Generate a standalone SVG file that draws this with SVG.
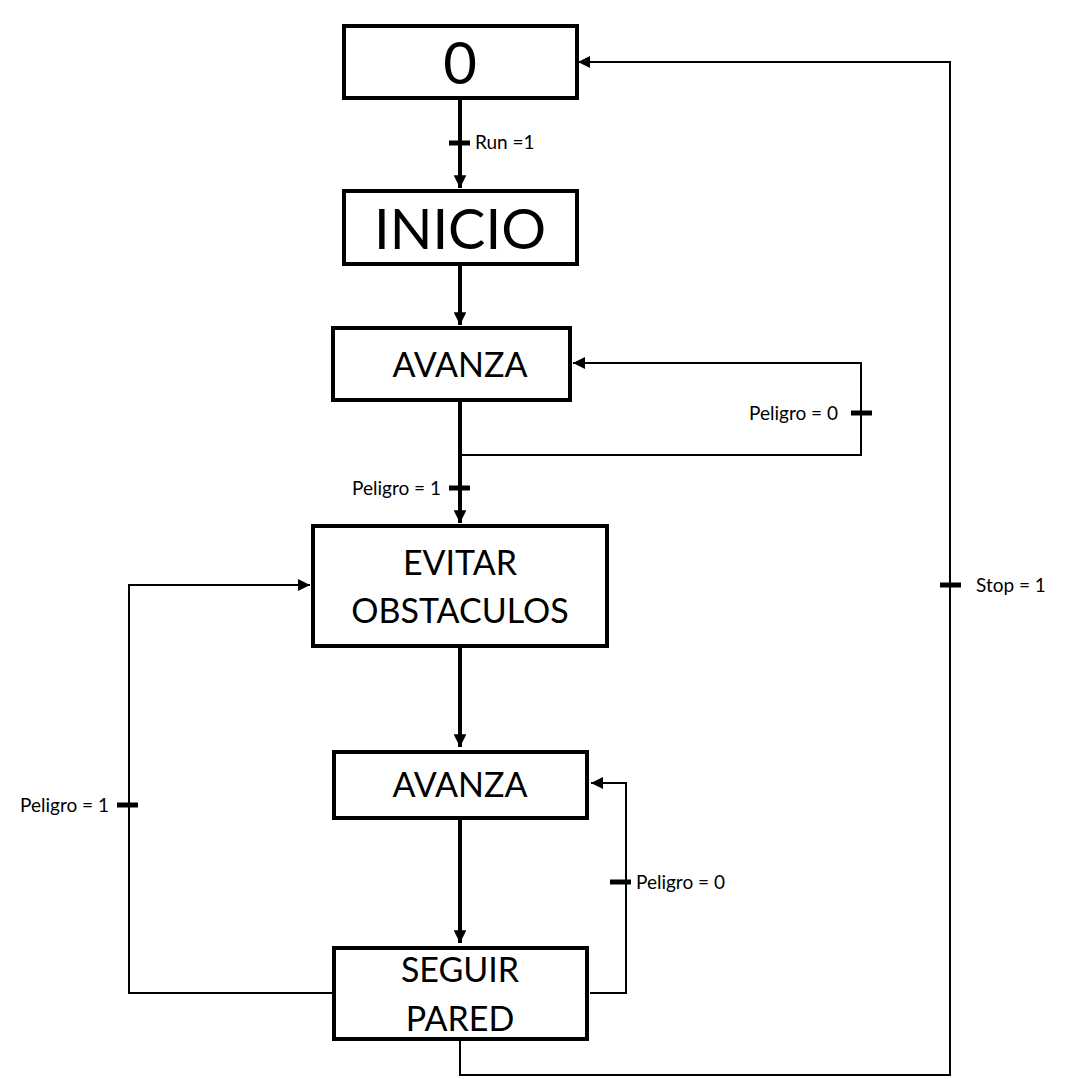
<svg xmlns="http://www.w3.org/2000/svg" width="1065" height="1079" viewBox="0 0 1065 1079">
<defs>
<style>
.box{fill:#fff;stroke:#000;stroke-width:4}
.big{font-family:Lato,"Open Sans",sans-serif;fill:#000;text-anchor:middle}
.lbl{font-family:Lato,"Open Sans",sans-serif;font-size:19px;fill:#000}
.end{text-anchor:end}
.thick{fill:none;stroke:#000;stroke-width:4}
.thin{fill:none;stroke:#000;stroke-width:2}
.tick{stroke:#000;stroke-width:5}
</style>
<marker id="ah" viewBox="0 0 10 10" refX="10" refY="5" markerWidth="3.2" markerHeight="3.2" orient="auto" markerUnits="strokeWidth">
<path d="M0,0 L10,5 L0,10 z" fill="#000"/>
</marker>
<marker id="ahs" viewBox="0 0 10 10" refX="10" refY="5" markerWidth="6" markerHeight="6" orient="auto" markerUnits="strokeWidth">
<path d="M0,0 L10,5 L0,10 z" fill="#000"/>
</marker>
</defs>
<rect width="1065" height="1079" fill="#fff"/>
<g id="connectors">
<path class="thick" d="M460,100 V188" marker-end="url(#ah)"/>
<line class="tick" x1="449" y1="143" x2="470" y2="143"/>
<text class="lbl" x="475" y="149">Run =1</text>
<path class="thick" d="M460,266 V325" marker-end="url(#ah)"/>
<path class="thick" d="M460,402 V523" marker-end="url(#ah)"/>
<line class="tick" x1="449" y1="488" x2="470" y2="488"/>
<text class="lbl end" x="441" y="495">Peligro = 1</text>
<path class="thin" d="M460,455 H861 V363 H573" marker-end="url(#ahs)"/>
<line class="tick" x1="851" y1="413" x2="872" y2="413"/>
<text class="lbl end" x="838" y="420">Peligro = 0</text>
<path class="thick" d="M460,648 V747" marker-end="url(#ah)"/>
<path class="thick" d="M460,820 V943" marker-end="url(#ah)"/>
<path class="thin" d="M332,993 H129 V585 H310" marker-end="url(#ahs)"/>
<line class="tick" x1="117" y1="805" x2="138" y2="805"/>
<text class="lbl end" x="109" y="812">Peligro = 1</text>
<path class="thin" d="M590,993 H626 V783 H591" marker-end="url(#ahs)"/>
<line class="tick" x1="610" y1="882" x2="631" y2="882"/>
<text class="lbl" x="636" y="889">Peligro = 0</text>
<path class="thin" d="M460,1041 V1075 H950 V62 H578" marker-end="url(#ahs)"/>
<line class="tick" x1="940" y1="585" x2="961" y2="585"/>
<text class="lbl" x="976" y="592">Stop = 1</text>
</g>
<g id="n0">
<rect class="box" x="344" y="26" width="233" height="72"/>
<text class="big" x="460" y="84" font-size="58">0</text>
</g>
<g id="inicio">
<rect class="box" x="344" y="191" width="233" height="73"/>
<text class="big" x="460" y="249" font-size="56">INICIO</text>
</g>
<g id="avanza1">
<rect class="box" x="333" y="328" width="237" height="72"/>
<text class="big" x="460" y="377" font-size="34">AVANZA</text>
</g>
<g id="evitar">
<rect class="box" x="313" y="526" width="294" height="120"/>
<text class="big" x="460" y="575" font-size="34">EVITAR</text>
<text class="big" x="460" y="623" font-size="34">OBSTACULOS</text>
</g>
<g id="avanza2">
<rect class="box" x="334" y="752" width="253" height="66"/>
<text class="big" x="460" y="797" font-size="34">AVANZA</text>
</g>
<g id="seguir">
<rect class="box" x="334" y="948" width="253" height="91"/>
<text class="big" x="460" y="982" font-size="34">SEGUIR</text>
<text class="big" x="460" y="1031" font-size="34">PARED</text>
</g>
</svg>
